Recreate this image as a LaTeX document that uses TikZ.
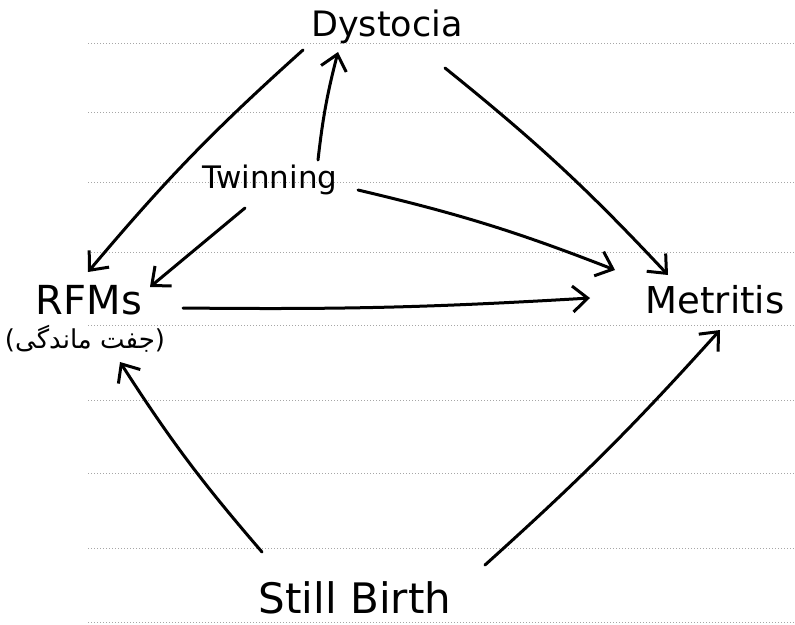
\documentclass[tikz,border=0pt]{standalone}
\usepackage{fontspec}
\setmainfont{DejaVu Sans}
\newfontfamily\farsi[Script=Arabic]{DejaVu Sans}
\TeXXeTstate=1
\usetikzlibrary{arrows.meta,calc}
\begin{document}
\begin{tikzpicture}[x=1pt,y=-1pt,
  lbl/.style={inner sep=0pt,font=\fontsize{35}{37}\selectfont},
  conn/.style={line width=3pt,line cap=round,-{Straight Barb[length=15pt,width=26pt,line width=3pt]}},
  ruled/.style={gray!70,dotted,line width=1pt}]
\useasboundingbox (0,0) rectangle (795,624);
\fill[white] (0,0) rectangle (795,624);
\foreach \yy in {43,112,182,252,325,400,473,548,622}{\draw[ruled] (88,\yy) -- (795,\yy);}
\node[lbl] (dys) at (387,27) {Dystocia};
\node[lbl,font=\fontsize{31}{33}\selectfont] (twi) at (270,180) {Twinning};
\node[lbl,font=\fontsize{40}{42}\selectfont] (rfm) at (89,300) {RFMs};
\node[inner sep=0pt,font=\fontsize{26}{28}\selectfont] (fa) at (85,339) {(\mbox{\farsi\beginR جفت ماندگی\endR})};
\node[lbl,font=\fontsize{37}{39}\selectfont] (met) at (715,300) {Metritis};
\node[lbl,font=\fontsize{42}{44}\selectfont] (sb) at (355,598) {Still Birth};
\draw[conn] ($(dys)+(-84,23)$) to[bend right=4] ($(rfm)+(-1,-28)$);
\draw[conn] ($(twi)+(-25,28)$) -- ($(rfm)+(61,-13)$);
\draw[conn] ($(twi)+(48,-20)$) to[bend left=4] ($(dys)+(-49,25)$);
\draw[conn] ($(dys)+(58,41)$) to[bend left=4] ($(met)+(-47,-25)$);
\draw[conn] ($(twi)+(88,10)$) to[bend left=4] ($(met)+(-100,-30)$);
\draw[conn] ($(rfm)+(94,8)$) to[bend right=2] ($(met)+(-125,-2)$);
\draw[conn] ($(sb)+(-93,-46)$) to[bend left=4] ($(rfm)+(31,62)$);
\draw[conn] ($(sb)+(130,-33)$) to[bend right=3] ($(met)+(5,30)$);
\end{tikzpicture}
\end{document}
